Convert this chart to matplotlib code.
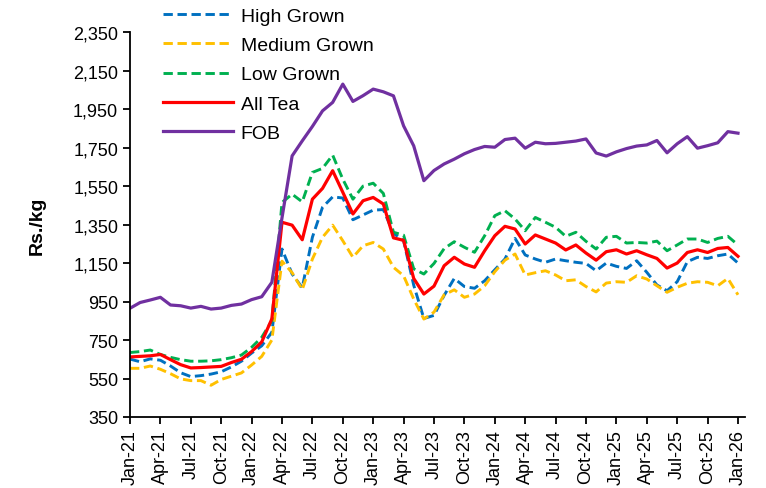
import matplotlib
matplotlib.use("Agg")
import matplotlib.pyplot as plt
from matplotlib.ticker import FuncFormatter

plt.rcParams['font.family'] = ['Liberation Sans', 'DejaVu Sans']

# monthly prices Jan-21 .. Jan-26 (Rs./kg)
high_grown = [651, 637, 652, 645, 615, 580, 560, 565, 573, 585, 610, 640,
              682, 720, 790, 1223, 1093, 1022, 1284, 1440, 1494, 1488, 1375, 1400,
              1425, 1428, 1305, 1266, 1035, 862, 878, 982, 1070, 1028, 1019, 1058,
              1115, 1171, 1278, 1192, 1171, 1154, 1171, 1162, 1154, 1148, 1110, 1150,
              1133, 1122, 1162, 1102, 1036, 1006, 1053, 1157, 1180, 1174, 1188, 1197,
              1150]
medium_grown = [603, 603, 615, 598, 575, 548, 539, 539, 515, 545, 562, 579,
                620, 665, 750, 1160, 1100, 1012, 1171, 1284, 1347, 1266, 1180, 1240,
                1257, 1223, 1128, 1084, 963, 859, 895, 985, 1011, 972, 989, 1032,
                1105, 1165, 1197, 1088, 1100, 1110, 1088, 1058, 1063, 1028, 1000, 1046,
                1053, 1050, 1084, 1067, 1032, 998, 1024, 1045, 1053, 1050, 1032, 1070,
                985]
low_grown = [685, 690, 698, 675, 660, 648, 640, 640, 642, 648, 658, 672,
             712, 764, 850, 1465, 1508, 1468, 1621, 1642, 1711, 1586, 1482, 1550,
             1565, 1512, 1310, 1295, 1120, 1093, 1148, 1225, 1261, 1232, 1206, 1292,
             1396, 1422, 1379, 1318, 1387, 1362, 1336, 1289, 1310, 1263, 1223, 1284,
             1289, 1254, 1257, 1254, 1264, 1214, 1244, 1275, 1275, 1257, 1278, 1289,
             1244]
all_tea = [662, 665, 668, 675, 648, 622, 605, 607, 610, 613, 633, 650,
           690, 740, 860, 1362, 1347, 1271, 1482, 1538, 1630, 1518, 1405, 1474,
           1491, 1457, 1281, 1268, 1070, 989, 1030, 1136, 1180, 1145, 1128, 1214,
           1292, 1341, 1327, 1249, 1296, 1275, 1254, 1218, 1244, 1202, 1165, 1209,
           1219, 1197, 1214, 1193, 1174, 1124, 1150, 1205, 1219, 1205, 1226, 1231,
           1185]
fob = [915, 945, 958, 972, 932, 928, 916, 925, 911, 916, 930, 937,
       960, 975, 1050, 1385, 1707, 1785, 1860, 1941, 1985, 2080, 1990, 2020,
       2054, 2040, 2019, 1863, 1759, 1578, 1631, 1665, 1690, 1718, 1740, 1756,
       1752, 1792, 1799, 1747, 1778, 1770, 1772, 1778, 1784, 1795, 1722, 1706,
       1728, 1745, 1758, 1764, 1787, 1723, 1770, 1807, 1747, 1760, 1775, 1833,
       1825]

tick_labels = ['Jan-21', 'Apr-21', 'Jul-21', 'Oct-21', 'Jan-22', 'Apr-22', 'Jul-22',
               'Oct-22', 'Jan-23', 'Apr-23', 'Jul-23', 'Oct-23', 'Jan-24', 'Apr-24',
               'Jul-24', 'Oct-24', 'Jan-25', 'Apr-25', 'Jul-25', 'Oct-25', 'Jan-26']
y_ticks = list(range(350, 2351, 200))

months = list(range(len(fob)))

fig = plt.figure(figsize=(7.66, 4.89), dpi=100)
ax = fig.add_axes([0.1697, 0.1452, 0.803, 0.787])

ax.plot(months, high_grown, color='#0070C0', lw=2.1, dashes=(3.2, 1.6), label='High Grown')
ax.plot(months, medium_grown, color='#FFC000', lw=2.1, dashes=(3.2, 1.6), label='Medium Grown')
ax.plot(months, low_grown, color='#00B050', lw=2.1, dashes=(3.2, 1.6), label='Low Grown')
ax.plot(months, all_tea, color='#FF0000', lw=2.3, label='All Tea')
ax.plot(months, fob, color='#7030A0', lw=2.3, label='FOB')

ax.set_xlim(0, 60.7)
ax.set_ylim(350, 2350)
ax.set_xticks(range(0, 61, 3))
ax.set_xticklabels(tick_labels, rotation=90, fontsize=13)
ax.set_yticks(y_ticks)
ax.yaxis.set_major_formatter(FuncFormatter(lambda v, p: f'{int(v):,}'))
ax.tick_params(axis='y', labelsize=13)
ax.tick_params(direction='out', length=5, width=1.3, color='black')

for s in ['top', 'right']:
    ax.spines[s].set_visible(False)
for s in ['left', 'bottom']:
    ax.spines[s].set_linewidth(1.3)
    ax.spines[s].set_color('black')

ax.set_ylabel('Rs./kg', fontsize=14, fontweight='bold', labelpad=20)

ax.legend(loc='upper left', bbox_to_anchor=(0.2128, 0.983), bbox_transform=fig.transFigure,
          frameon=False, fontsize=14, handlelength=3.6, handletextpad=0.4,
          labelspacing=0.6, borderpad=0, borderaxespad=0)

fig.savefig('out.png', dpi=100)
